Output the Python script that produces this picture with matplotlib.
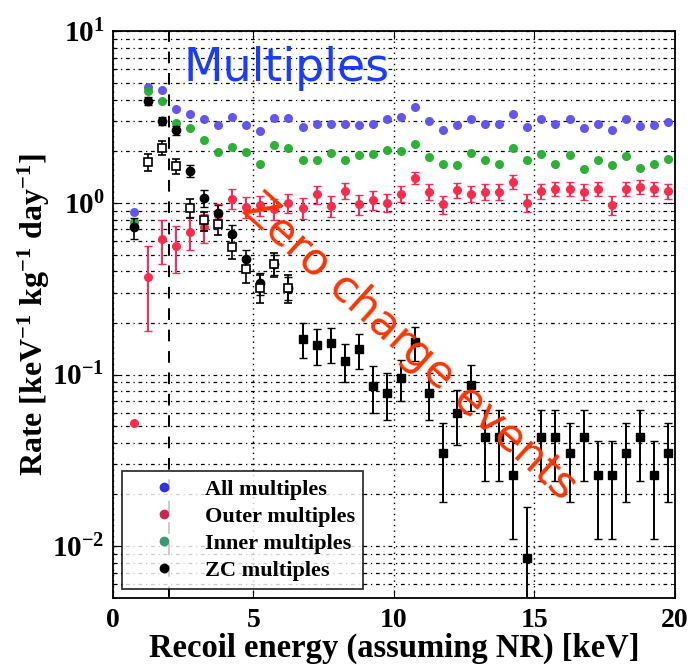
import numpy as np
import matplotlib
matplotlib.use("Agg")
import matplotlib.pyplot as plt
from matplotlib.lines import Line2D

plt.rcParams['font.family'] = ['Liberation Serif', 'DejaVu Serif']
plt.rcParams['font.weight'] = 'bold'
plt.rcParams['mathtext.fontset'] = 'custom'
plt.rcParams['mathtext.rm'] = 'Liberation Serif:bold'
plt.rcParams['mathtext.it'] = 'Liberation Serif:bold'
plt.rcParams['mathtext.bf'] = 'Liberation Serif:bold'

# bin centres (keV)
energy = [0.75, 1.25, 1.75, 2.25, 2.75, 3.25, 3.75, 4.25, 4.75, 5.25,
          5.75, 6.25, 6.75, 7.25, 7.75, 8.25, 8.75, 9.25, 9.75, 10.25,
          10.75, 11.25, 11.75, 12.25, 12.75, 13.25, 13.75, 14.25, 14.75, 15.25,
          15.75, 16.25, 16.75, 17.25, 17.75, 18.25, 18.75, 19.25, 19.75]

all_mult = [0.88, 4.72, 4.54, 3.52, 3.29, 3.08, 2.84, 3.16, 2.84, 2.62,
            3.12, 3.12, 2.77, 2.88, 2.88, 2.88, 2.84, 2.88, 3.08, 3.16,
            3.61, 3.00, 2.65, 2.84, 3.08, 2.88, 2.88, 3.29, 2.77, 3.08,
            2.88, 3.08, 2.73, 2.88, 2.65, 3.08, 2.80, 2.84, 2.95]

inner_mult = [0.77, 4.48, 3.92, 2.92, 2.73, 2.32, 1.98, 2.12, 1.98, 1.69,
              2.17, 2.09, 1.78, 1.78, 1.95, 1.78, 1.90, 1.93, 2.03, 2.00,
              2.20, 1.85, 1.69, 1.66, 1.95, 1.78, 1.69, 2.09, 1.78, 1.93,
              1.69, 1.90, 1.58, 1.78, 1.66, 1.88, 1.60, 1.69, 1.80]

outer_mult = [0.052, 0.37, 0.62, 0.56, 0.68, 0.72, 0.85, 1.06, 0.95, 0.97,
              0.92, 1.00, 0.94, 1.12, 0.96, 1.18, 0.98, 1.04, 1.00, 1.13,
              1.40, 1.16, 0.98, 1.19, 1.13, 1.16, 1.16, 1.33, 1.00, 1.17,
              1.21, 1.21, 1.16, 1.21, 0.97, 1.21, 1.24, 1.21, 1.17]
outer_err = [0.0, 0.19, 0.18, 0.17, 0.15, 0.14, 0.14, 0.14, 0.13, 0.13,
             0.13, 0.13, 0.13, 0.13, 0.13, 0.13, 0.13, 0.13, 0.12, 0.12,
             0.12, 0.12, 0.12, 0.12, 0.12, 0.12, 0.12, 0.12, 0.12, 0.12,
             0.12, 0.12, 0.12, 0.12, 0.12, 0.12, 0.12, 0.12, 0.12]

# ZC multiples (circles), low energy part
zc_e = [0.75, 1.25, 1.75, 2.25, 2.75, 3.25, 3.75, 4.25, 4.75, 5.25, 5.75, 6.25]
zc_rate = [0.72, 3.92, 3.00, 2.65, 1.54, 1.07, 0.875, 0.66, 0.47, 0.34, 0.44, 0.32]
zc_err = [0.10, 0.20, 0.15, 0.15, 0.12, 0.12, 0.10, 0.08, 0.06, 0.05, 0.06, 0.05]

# zero charge (open squares)
zs_e = [1.25, 1.75, 2.25, 2.75, 3.25, 3.75, 4.25, 4.75, 5.25, 5.75, 6.25]
zs_rate = [1.73, 2.09, 1.64, 0.94, 0.79, 0.75, 0.55, 0.41, 0.32, 0.44, 0.32]
zs_err = [0.20, 0.20, 0.17, 0.12, 0.10, 0.10, 0.08, 0.07, 0.06, 0.07, 0.06]

# zero charge, higher energy (filled squares)
zh_e = [6.75, 7.25, 7.75, 8.25, 8.75, 9.25, 9.75, 10.25, 10.75, 11.25,
        11.75, 12.25, 12.75, 13.25, 13.75, 14.25, 14.75, 15.25, 15.75, 16.25,
        16.75, 17.25, 17.75, 18.25, 18.75, 19.25, 19.75]
zh_rate = [0.162, 0.148, 0.152, 0.120, 0.140, 0.086, 0.078, 0.096, 0.155, 0.078,
           0.035, 0.060, 0.087, 0.043, 0.043, 0.026, 0.0085, 0.043, 0.043, 0.035,
           0.043, 0.026, 0.026, 0.035, 0.043, 0.026, 0.035]
zh_err = [0.037, 0.035, 0.035, 0.030, 0.033, 0.026, 0.024, 0.026, 0.035, 0.024,
          0.017, 0.021, 0.026, 0.019, 0.019, 0.015, 0.0085, 0.019, 0.019, 0.017,
          0.019, 0.015, 0.015, 0.017, 0.019, 0.015, 0.017]

legend_labels = ['All multiples', 'Outer multiples', 'Inner multiples', 'ZC multiples']
legend_colors = ['#3030e0', '#c8284e', '#3a9a78', 'black']

fig = plt.figure(figsize=(6.88, 6.65), dpi=100)
ax = fig.add_axes([0.164, 0.101, 0.817, 0.852])

ax.plot(energy, all_mult, 'o', color='#5a4cf0', ms=6.5, mec='none', alpha=0.95, zorder=3)
ax.plot(energy, inner_mult, 'o', color='#1fae2a', ms=6.5, mec='none', alpha=0.95, zorder=3)
ax.errorbar(energy, outer_mult, yerr=outer_err, fmt='o', color='#ff2a4a', ms=6.5,
            mec='none', ecolor='#ff2a5a', elinewidth=1.5, capsize=3, zorder=3)
ax.errorbar(zc_e, zc_rate, yerr=zc_err, fmt='o', color='black', ms=6,
            elinewidth=1.2, capsize=3, zorder=4)
ax.errorbar(zs_e, zs_rate, yerr=zs_err, fmt='s', color='black', mfc='white', ms=6,
            mew=1.2, elinewidth=1.2, capsize=3, zorder=4)
ax.errorbar(zh_e, zh_rate, yerr=zh_err, fmt='s', color='black', ms=6,
            elinewidth=1.4, capsize=3, zorder=4)

ax.axvline(2, color='black', linestyle=(0, (6, 5)), linewidth=1.4, zorder=2)

ax.set_yscale('log')
ax.set_xlim(0, 20)
ax.set_ylim(5e-3, 10)
ax.set_xticks([0, 5, 10, 15, 20])
ax.set_xticklabels(['0', '5', '10', '15', '20'])
ax.tick_params(axis='both', which='both', direction='in', top=True, right=True)
ax.tick_params(axis='x', which='major', labelsize=20, length=6, pad=7)
ax.tick_params(axis='y', which='major', labelsize=21, length=6, pad=6)
ax.tick_params(axis='y', which='minor', length=3)

ax.grid(True, which='major', axis='x', color='black', linestyle=(0, (1, 3)), linewidth=1)
ax.grid(True, which='both', axis='y', color='black', linestyle=(0, (3, 3, 1, 3)), linewidth=0.9)
for sp in ax.spines.values():
    sp.set_linewidth(1.3)

ax.set_xlabel('Recoil energy (assuming NR) [keV]', fontsize=23.5, fontweight='bold', labelpad=0)
ax.set_ylabel('Rate [keV$^{-1}$ kg$^{-1}$ day$^{-1}$]', fontsize=23, fontweight='bold', labelpad=0)

handles = [Line2D([], [], marker='o', linestyle='none', color=c, ms=6) for c in legend_colors]
leg = ax.legend(handles, legend_labels, loc='lower left', fontsize=16, frameon=True,
                fancybox=False, edgecolor='black', handletextpad=0.3, borderpad=0.35,
                labelspacing=0.3, handlelength=3.1, borderaxespad=0.4)
leg.get_frame().set_linewidth(1.3)

ax.text(0.125, 0.935, 'Multiples', transform=ax.transAxes, color='#1a3cff',
        fontsize=33, family='DejaVu Sans', fontweight='normal', ha='left', va='center')
ax.text(0.528, 0.443, 'Zero charge events', transform=ax.transAxes, color='#ff3300',
        fontsize=32, family='DejaVu Sans', fontweight='normal', rotation=-42,
        ha='center', va='center', zorder=6)

fig.savefig('out.png', dpi=100)
